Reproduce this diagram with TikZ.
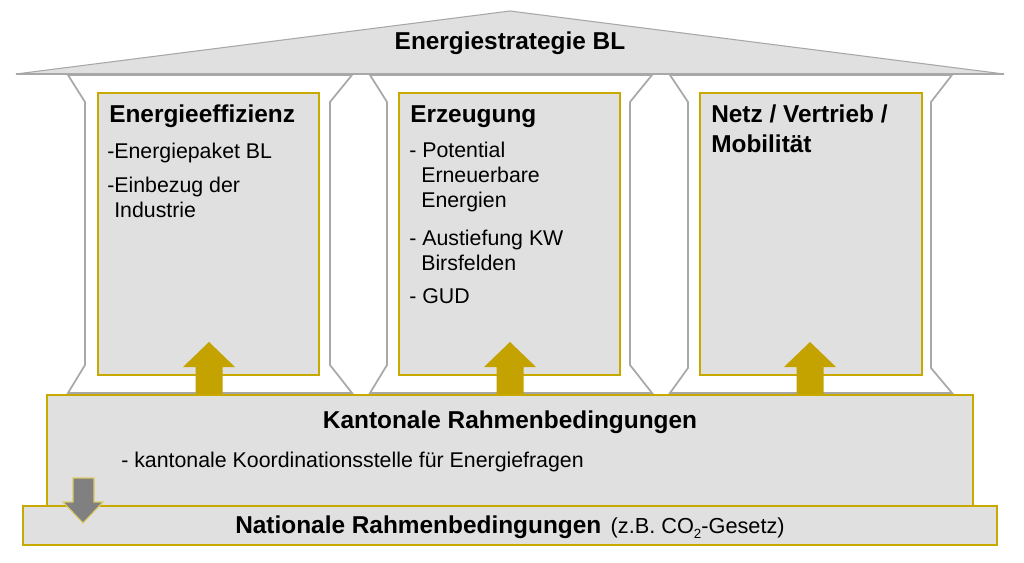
\documentclass[tikz,border=0pt]{standalone}
\usepackage{fontspec}
\setmainfont{Liberation Sans}
\definecolor{gold}{HTML}{C8A900}
\definecolor{arrowgold}{HTML}{C4A300}
\definecolor{boxgray}{HTML}{E0E0E0}
\definecolor{pillar}{HTML}{A8A8A8}
\definecolor{downgray}{HTML}{808080}
\begin{document}
\begin{tikzpicture}[x=0.75pt,y=-0.75pt,
  pillarshape/.style={draw=pillar, fill=white, line width=1.3pt, line join=miter},
  goldbox/.style={draw=gold, fill=boxgray, line width=1.6pt},
  uparrow/.style={fill=arrowgold, draw=none},
  titletext/.style={font=\fontsize{18.3}{20}\selectfont\bfseries, inner sep=0pt},
  bodytext/.style={font=\fontsize{16}{19}\selectfont, inner sep=0pt, anchor=base west}]
\useasboundingbox (0,0) rectangle (1024,563);
\fill[white] (0,0) rectangle (1024,563);
% pillars
\draw[pillarshape] (68,75) -- (85,102) -- (85,365) -- (68,393) -- (352,393) -- (330,365) -- (330,102) -- (352,75) -- cycle;
\draw[pillarshape] (370,75) -- (387,102) -- (387,365) -- (370,393) -- (652,393) -- (630,365) -- (630,102) -- (652,75) -- cycle;
\draw[pillarshape] (670,75) -- (688,102) -- (688,368) -- (670,393) -- (952,393) -- (931,368) -- (931,102) -- (952,75) -- cycle;
% roof
\draw[fill=boxgray, draw=pillar, line width=0.8pt] (16,74) -- (510,11) -- (1004,74) -- cycle;
\draw[pillar, line width=1.6pt] (16,74) -- (1004,74);
% inner boxes
\draw[goldbox] (98,93) rectangle (319,375);
\draw[goldbox] (399,93) rectangle (620,375);
\draw[goldbox] (700,93) rectangle (922,375);
% up arrows
\foreach \cx in {209,510,810}{
  \fill[uparrow] (\cx-13.5,396) -- (\cx-13.5,367) -- (\cx-26,367) -- (\cx,342) -- (\cx+26,367) -- (\cx+13.5,367) -- (\cx+13.5,396) -- cycle;
}
% kantonale box
\draw[goldbox] (47,395) rectangle (973,506);
% nationale box
\draw[goldbox] (23,506) rectangle (997,545);
% down arrow
\draw[fill=downgray, draw=gold!60, line width=0.8pt] (73,478) -- (94,478) -- (94,502) -- (103,502) -- (83,523) -- (63,502) -- (73,502) -- cycle;
% texts
\node[titletext, anchor=base] (roof) at (510,50) {Energiestrategie BL};
\node[titletext, anchor=base west] (t1) at (109,123) {Energieeffizienz};
\node[bodytext] (t1a) at (107,159) {-Energiepaket BL};
\node[bodytext] (t1b) at (107,192) {-Einbezug der};
\node[bodytext] (t1c) at (114,218) {Industrie};
\node[titletext, anchor=base west] (t2) at (410,123) {Erzeugung};
\node[bodytext] (t2a) at (409,158) {- Potential};
\node[bodytext] (t2b) at (421,183) {Erneuerbare};
\node[bodytext] (t2c) at (421,208) {Energien};
\node[bodytext] (t2d) at (409,245) {- Austiefung KW};
\node[bodytext] (t2e) at (421,270) {Birsfelden};
\node[bodytext] (t2f) at (409,303) {- GUD};
\node[titletext, anchor=base west] (t3) at (711,123) {Netz / Vertrieb /};
\node[titletext, anchor=base west] (t3b) at (711,152) {Mobilität};
\node[titletext, anchor=base] (kt) at (510,428) {Kantonale Rahmenbedingungen};
\node[bodytext] (kb) at (121,467) {- kantonale Koordinationsstelle für Energiefragen};
\node[inner sep=0pt, anchor=base] (nt) at (510,533) {{\fontsize{18.3}{20}\selectfont\bfseries Nationale Rahmenbedingungen}\hspace{7pt}{\fontsize{16.3}{19}\selectfont (z.B. CO\raisebox{-0.25em}{\fontsize{10}{10}\selectfont 2}-Gesetz)}};
\end{tikzpicture}
\end{document}
